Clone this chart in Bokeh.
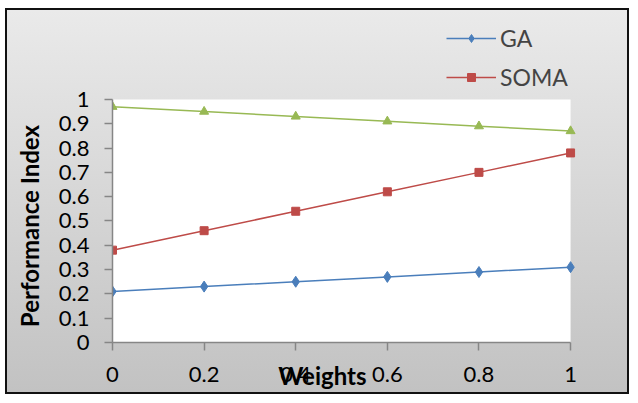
from bokeh.plotting import figure
from bokeh.models import (ColumnDataSource, Legend, LegendItem, FixedTicker,
                          Range1d, BoxAnnotation)
from bokeh.embed import file_html
from bokeh.resources import INLINE

weights = [0, 0.2, 0.4, 0.6, 0.8, 1.0]
ga = [0.21, 0.23, 0.25, 0.27, 0.29, 0.31]
soma = [0.38, 0.46, 0.54, 0.62, 0.70, 0.78]
third = [0.97, 0.95, 0.93, 0.91, 0.89, 0.87]
y_ticks = [0, 0.1, 0.2, 0.3, 0.4, 0.5, 0.6, 0.7, 0.8, 0.9, 1]
x_ticks = [0, 0.2, 0.4, 0.6, 0.8, 1]

FONT = "Lato"
NBSP = "\u00a0"

# frame spans the whole upper/right area; plot area (0..1) is shown white
p = figure(width=624, height=386, output_backend="svg", toolbar_location=None,
           x_range=Range1d(0, 1.133), y_range=Range1d(0, 1.366))
p.min_border_left = 105
p.min_border_right = 0
p.min_border_top = 0
p.min_border_bottom = 54
p.border_fill_alpha = 0
p.background_fill_alpha = 0
p.outline_line_color = None
p.styles = {
    "background-image": "linear-gradient(#eaeaea, #c2c2c2)",
    "border": "2px solid #111111",
    "margin-left": "5px",
    "margin-top": "8px",
}

p.add_layout(BoxAnnotation(left=0, right=1, bottom=0, top=1,
                           fill_color="white", fill_alpha=1,
                           line_color=None, level="underlay"))

src = ColumnDataSource(dict(w=weights, ga=ga, soma=soma, third=third))

ga_line = p.line("w", "ga", source=src, line_color="#4a7ebb", line_width=1.5)
ga_pts = p.scatter("w", "ga", source=src, marker="diamond", size=11,
                   fill_color="#4a7ebb", line_color="#4a7ebb")
so_line = p.line("w", "soma", source=src, line_color="#be4b48", line_width=1.5)
so_pts = p.scatter("w", "soma", source=src, marker="square", size=8,
                   fill_color="#be4b48", line_color="#be4b48")
th_line = p.line("w", "third", source=src, line_color="#98b954", line_width=1.5)
th_pts = p.scatter("w", "third", source=src, marker="triangle", size=9,
                   fill_color="#98b954", line_color="#98b954")

p.grid.visible = False

for ax in (p.xaxis[0], p.yaxis[0]):
    ax.bounds = (0, 1)
    ax.axis_line_color = "#868686"
    ax.axis_line_width = 1.5
    ax.major_tick_line_color = "#868686"
    ax.major_tick_line_width = 1.5
    ax.major_tick_in = 0
    ax.major_tick_out = 8
    ax.minor_tick_line_color = None
    ax.major_label_text_font = FONT
    ax.major_label_text_font_size = "22px"
    ax.major_label_text_color = "#000000"
    ax.axis_label_text_font = FONT
    ax.axis_label_text_font_size = "24px"
    ax.axis_label_text_font_style = "bold"
    ax.axis_label_text_color = "#000000"

p.yaxis[0].ticker = FixedTicker(ticks=y_ticks)
p.yaxis[0].major_label_overrides = {0: "0", 1: "1"}
p.yaxis[0].major_label_standoff = 15
p.yaxis[0].axis_label = "Performance Index" + NBSP * 17
p.yaxis[0].axis_label_standoff = 12

p.xaxis[0].ticker = FixedTicker(ticks=x_ticks)
p.xaxis[0].major_label_overrides = {0: "0", 1: "1"}
p.xaxis[0].major_label_standoff = 16
p.xaxis[0].axis_label = "Weights" + NBSP * 17
p.xaxis[0].axis_label_standoff = -24

legend = Legend(items=[LegendItem(label="GA", renderers=[ga_line, ga_pts]),
                       LegendItem(label="SOMA", renderers=[so_line, so_pts])],
                location=(334, 251))
legend.background_fill_alpha = 0
legend.border_line_color = None
legend.label_text_font = FONT
legend.label_text_font_size = "23px"
legend.glyph_width = 50
legend.glyph_height = 20
legend.label_height = 20
legend.spacing = 11
legend.padding = 0
legend.margin = 0
legend.label_standoff = 4
p.add_layout(legend, "center")

open("out.html", "w").write(file_html(p, INLINE))
